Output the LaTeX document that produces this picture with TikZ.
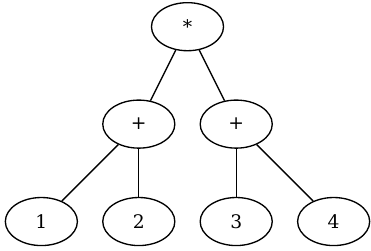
\documentclass[tikz,border=0pt]{standalone}
\usepackage{fontspec}
\setmainfont{DejaVu Serif}
\usepackage{tikz}
\usetikzlibrary{positioning,calc,shapes.geometric}

\begin{document}
\begin{tikzpicture}[line width=1pt, font=\fontsize{14}{16}\selectfont,
    op/.style={draw, ellipse, minimum width=54pt, minimum height=36pt, inner sep=0pt},
    edge/.style={draw=black, line width=1pt}]
    \useasboundingbox (-31pt,-22pt) rectangle (247pt,166pt);
    % leaves
    \node[op] (n1) at (0,0) {1};
    \node[op, right=18pt of n1] (n2) {2};
    \node[op, right=18pt of n2] (n3) {3};
    \node[op, right=18pt of n3] (n4) {4};
    % inner nodes
    \node[op, above=36pt of n2] (plusl) {+};
    \node[op, above=36pt of n3] (plusr) {+};
    \coordinate (m) at ($(plusl.north)!0.5!(plusr.north)$);
    \node[op, above=36pt of m] (times) {*};
    \draw[edge] (times) -- (plusl);
    \draw[edge] (times) -- (plusr);
    \draw[edge] (plusl) -- (n1);
    \draw[edge] (plusl) -- (n2);
    \draw[edge] (plusr) -- (n3);
    \draw[edge] (plusr) -- (n4);
  \end{tikzpicture}
\end{document}
